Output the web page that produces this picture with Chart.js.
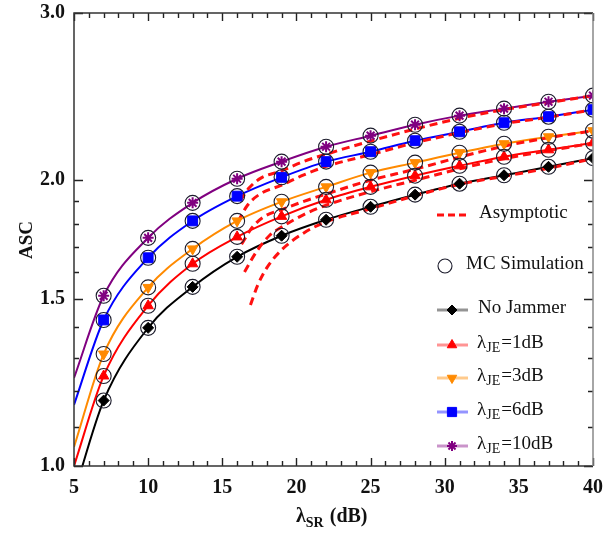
<!DOCTYPE html>
<html lang="en">
<head>
<meta charset="UTF-8">
<title>ASC versus λSR</title>
<script src="https://cdn.jsdelivr.net/npm/chart.js@4.4.1/dist/chart.umd.min.js"></script>
<style>
  html, body { margin: 0; padding: 0; background: #fff; }
  #wrap { width: 616px; height: 534px; }
</style>
</head>
<body>
<div id="wrap"><canvas id="asc" width="616" height="534"></canvas></div>
<script>
// λSR (dB) where the exact curves are sampled; MC markers sit at 7..40
const lambdaSR = [5, 7, 10, 13, 16, 19, 22, 25, 28, 31, 34, 37, 40];

const ascNoJammer = [0.935, 1.172, 1.398, 1.544, 1.661, 1.748, 1.817, 1.875, 1.931, 1.983, 2.024, 2.066, 2.110];
const ascJE1  = [1.000, 1.244, 1.475, 1.633, 1.743, 1.832, 1.907, 1.968, 2.022, 2.071, 2.117, 2.153, 2.190];
const ascJE3  = [1.047, 1.312, 1.542, 1.693, 1.812, 1.898, 1.968, 2.037, 2.087, 2.138, 2.185, 2.222, 2.255];
const ascJE6  = [1.160, 1.425, 1.657, 1.812, 1.924, 2.014, 2.092, 2.143, 2.201, 2.249, 2.299, 2.333, 2.373];
const ascJE10 = [1.238, 1.511, 1.739, 1.893, 2.007, 2.092, 2.169, 2.228, 2.288, 2.339, 2.379, 2.419, 2.455];

// high-λSR asymptotes (each starts where it enters the plot)
const asymSRNoJammer = [16.9, 17.4, 18, 19, 20.5, 22, 25, 28, 31, 34, 37, 40];
const asymNoJammer   = [1.478, 1.552, 1.617, 1.689, 1.760, 1.808, 1.866, 1.926, 1.980, 2.019, 2.059, 2.107];
const asymSRJE1 = [16.5, 17.3, 18.2, 19, 20.5, 22, 25, 28, 31, 34, 37, 40];
const asymJE1   = [1.601, 1.681, 1.750, 1.785, 1.840, 1.882, 1.945, 2.000, 2.056, 2.107, 2.148, 2.188];
const asymSRJE3 = [16.3, 17, 17.8, 19, 20.5, 22, 25, 28, 31, 34, 37, 40];
const asymJE3   = [1.712, 1.782, 1.830, 1.862, 1.900, 1.934, 2.000, 2.054, 2.115, 2.172, 2.217, 2.255];
const asymSRJE6 = [16.05, 16.7, 17.5, 19, 20.5, 22, 25, 28, 31, 34, 37, 40];
const asymJE6   = [1.808, 1.882, 1.932, 1.976, 2.026, 2.068, 2.128, 2.190, 2.244, 2.294, 2.330, 2.373];
const asymSRJE10 = [16.2, 16.8, 17.6, 19, 20.5, 22, 25, 28, 31, 34, 37, 40];
const asymJE10   = [1.903, 1.962, 2.010, 2.046, 2.093, 2.130, 2.199, 2.264, 2.324, 2.373, 2.414, 2.455];

const srTicks = [5, 10, 15, 20, 25, 30, 35, 40];
const ascTicks = [1.0, 1.5, 2.0, 3.0];
const ascMinorTicks = [1.1, 1.2, 1.3, 1.4, 1.6, 1.7, 1.8, 1.9];

const SERIF = '"Liberation Serif", "DejaVu Serif", serif';

const series = [
  { name: 'No Jammer', sub: null, values: ascNoJammer, asymX: asymSRNoJammer, asym: asymNoJammer,
    color: '#000000', faded: 'rgba(0,0,0,0.42)', style: 'rectRot', radius: 5.5, rotation: 0 },
  { name: '=1dB', sub: 'JE', values: ascJE1, asymX: asymSRJE1, asym: asymJE1,
    color: '#ff0000', faded: 'rgba(255,0,0,0.42)', style: 'triangle', radius: 6, rotation: 0 },
  { name: '=3dB', sub: 'JE', values: ascJE3, asymX: asymSRJE3, asym: asymJE3,
    color: '#ff8a00', faded: 'rgba(255,138,0,0.45)', style: 'triangle', radius: 6, rotation: 180 },
  { name: '=6dB', sub: 'JE', values: ascJE6, asymX: asymSRJE6, asym: asymJE6,
    color: '#0000ff', faded: 'rgba(0,0,255,0.42)', style: 'rect', radius: 7, rotation: 0 },
  { name: '=10dB', sub: 'JE', values: ascJE10, asymX: asymSRJE10, asym: asymJE10,
    color: '#800080', faded: 'rgba(128,0,128,0.42)', style: 'star', radius: 5.5, rotation: 0 }
];

const pts = (xs, ys) => xs.map((x, i) => ({ x: x, y: ys[i] }));

const datasets = [];
series.forEach(s => {
  // exact curve
  datasets.push({
    data: pts(lambdaSR, s.values), borderColor: s.color, borderWidth: 2,
    pointRadius: 0, cubicInterpolationMode: 'monotone', order: 40
  });
  // asymptote, red dashes on top of the curves
  datasets.push({
    data: pts(s.asymX, s.asym), borderColor: '#ff1010', borderWidth: 3, borderDash: [8, 5],
    pointRadius: 0, cubicInterpolationMode: 'monotone', order: 30
  });
  // analytical markers
  datasets.push({
    data: pts(lambdaSR.slice(1), s.values.slice(1)), showLine: false,
    pointStyle: s.style, pointRadius: s.radius, pointRotation: s.rotation,
    backgroundColor: s.color, borderColor: s.color, pointBorderWidth: s.style === 'star' ? 2 : 1, order: 20
  });
});
// Monte-Carlo circles around every marker
datasets.push({
  data: series.flatMap(s => pts(lambdaSR.slice(1), s.values.slice(1))), showLine: false,
  pointStyle: 'circle', pointRadius: 7.5, backgroundColor: 'rgba(0,0,0,0)',
  borderColor: '#1b1b2b', pointBorderWidth: 1.1, order: 10
});

function drawMarker(ctx, style, radius, rotation, color, bw, x, y) {
  ctx.save();
  ctx.fillStyle = color;
  ctx.strokeStyle = color;
  ctx.lineWidth = bw;
  Chart.helpers.drawPoint(ctx, { pointStyle: style, radius: radius, rotation: rotation, borderWidth: bw }, x, y);
  ctx.restore();
}

// λ with subscript followed by plain text
function lambdaText(ctx, x, y, sub, rest, size, weight) {
  ctx.font = weight + ' ' + size + 'px ' + SERIF;
  ctx.fillText('λ', x, y);
  x += ctx.measureText('λ').width;
  const small = Math.round(size * 0.72);
  ctx.font = weight + ' ' + small + 'px ' + SERIF;
  ctx.fillText(sub, x, y + size * 0.3);
  x += ctx.measureText(sub).width + 1;
  ctx.font = weight + ' ' + size + 'px ' + SERIF;
  ctx.fillText(rest, x, y);
}

const framePlugin = {
  id: 'frame',
  afterDatasetsDraw(chart) {
    const ctx = chart.ctx;
    const a = chart.chartArea;
    const xs = chart.scales.x, ys = chart.scales.y;
    ctx.save();
    ctx.strokeStyle = '#222';
    ctx.lineWidth = 1.4;
    ctx.beginPath();
    // inward ticks on all four sides
    for (let v = 5; v <= 40; v++) {
      const px = Math.round(xs.getPixelForValue(v)) + 0.5;
      const len = v % 5 === 0 ? 8 : 5;
      ctx.moveTo(px, a.bottom); ctx.lineTo(px, a.bottom - len);
      ctx.moveTo(px, a.top); ctx.lineTo(px, a.top + len);
    }
    ascTicks.concat(ascMinorTicks).forEach(v => {
      const py = Math.round(ys.getPixelForValue(v)) + 0.5;
      const len = ascTicks.includes(v) ? 9 : 5;
      ctx.moveTo(a.left, py); ctx.lineTo(a.left + len, py);
      ctx.moveTo(a.right, py); ctx.lineTo(a.right - len, py);
    });
    ctx.stroke();
    ctx.lineWidth = 1.5;
    ctx.strokeStyle = '#333';
    ctx.beginPath();
    ctx.moveTo(a.right, a.top); ctx.lineTo(a.left, a.top); ctx.lineTo(a.left, a.bottom); ctx.lineTo(a.right, a.bottom);
    ctx.stroke();
    ctx.strokeStyle = '#888';
    ctx.beginPath();
    ctx.moveTo(a.right, a.top); ctx.lineTo(a.right, a.bottom);
    ctx.stroke();
    ctx.restore();
  },
  afterDraw(chart) {
    const ctx = chart.ctx;
    ctx.save();
    ctx.fillStyle = '#111';
    ctx.textBaseline = 'middle';

    // axis titles
    ctx.save();
    ctx.translate(27, 240);
    ctx.rotate(-Math.PI / 2);
    ctx.textAlign = 'center';
    ctx.font = 'bold 19px ' + SERIF;
    ctx.fillText('ASC', 0, 0);
    ctx.restore();
    ctx.textAlign = 'left';
    lambdaText(ctx, 296, 517, 'SR', ' (dB)', 20, 'bold');

    // legend
    const lx0 = 437, lx1 = 468;
    ctx.save();
    ctx.strokeStyle = '#ff1010';
    ctx.lineWidth = 3;
    ctx.setLineDash([7, 4]);
    ctx.beginPath(); ctx.moveTo(lx0, 215); ctx.lineTo(lx1, 215); ctx.stroke();
    ctx.restore();
    ctx.font = '19px ' + SERIF;
    ctx.fillText('Asymptotic', 479, 213);

    ctx.save();
    ctx.strokeStyle = '#1b1b2b';
    ctx.lineWidth = 1.1;
    ctx.beginPath(); ctx.arc(445, 266, 7, 0, Math.PI * 2); ctx.stroke();
    ctx.restore();
    ctx.fillText('MC Simulation', 466, 264);

    const rows = [310, 345, 378, 412, 446];
    series.forEach((s, i) => {
      const y = rows[i];
      ctx.save();
      ctx.strokeStyle = s.faded;
      ctx.lineWidth = 3;
      ctx.beginPath(); ctx.moveTo(lx0, y); ctx.lineTo(lx1, y); ctx.stroke();
      ctx.restore();
      drawMarker(ctx, s.style, s.radius - 0.5, s.rotation, s.color, s.style === 'star' ? 2 : 1, 452, y);
      ctx.fillStyle = '#111';
      if (s.sub) {
        lambdaText(ctx, 477, y - 2, s.sub, s.name, 19, 'normal');
      } else {
        ctx.font = '19px ' + SERIF;
        ctx.fillText(s.name, 478, y - 2);
      }
    });
    ctx.restore();
  }
};

new Chart(document.getElementById('asc'), {
  type: 'line',
  data: { datasets: datasets },
  options: {
    responsive: false,
    animation: false,
    events: [],
    layout: { padding: { top: 13, right: 23, left: 40, bottom: 0 } },
    plugins: { legend: { display: false }, tooltip: { enabled: false } },
    scales: {
      x: {
        type: 'linear', min: 5, max: 40,
        grid: { display: false, drawTicks: false },
        border: { display: false },
        afterBuildTicks: sc => { sc.ticks = srTicks.map(v => ({ value: v })); },
        afterFit: sc => { sc.height = 68; },
        ticks: {
          padding: 10, maxRotation: 0, autoSkip: false, color: '#111',
          font: { family: SERIF, size: 20, weight: 'bold' }
        }
      },
      y: {
        type: 'logarithmic', min: 1, max: 3,
        grid: { display: false, drawTicks: false },
        border: { display: false },
        afterBuildTicks: sc => { sc.ticks = ascTicks.map(v => ({ value: v })); },
        afterFit: sc => { sc.width = 34; },
        ticks: {
          padding: 0, crossAlign: 'far', autoSkip: false, color: '#111',
          font: { family: SERIF, size: 20, weight: 'bold' },
          callback: v => Number(v).toFixed(1)
        }
      }
    }
  },
  plugins: [framePlugin]
});
</script>
</body>
</html>
